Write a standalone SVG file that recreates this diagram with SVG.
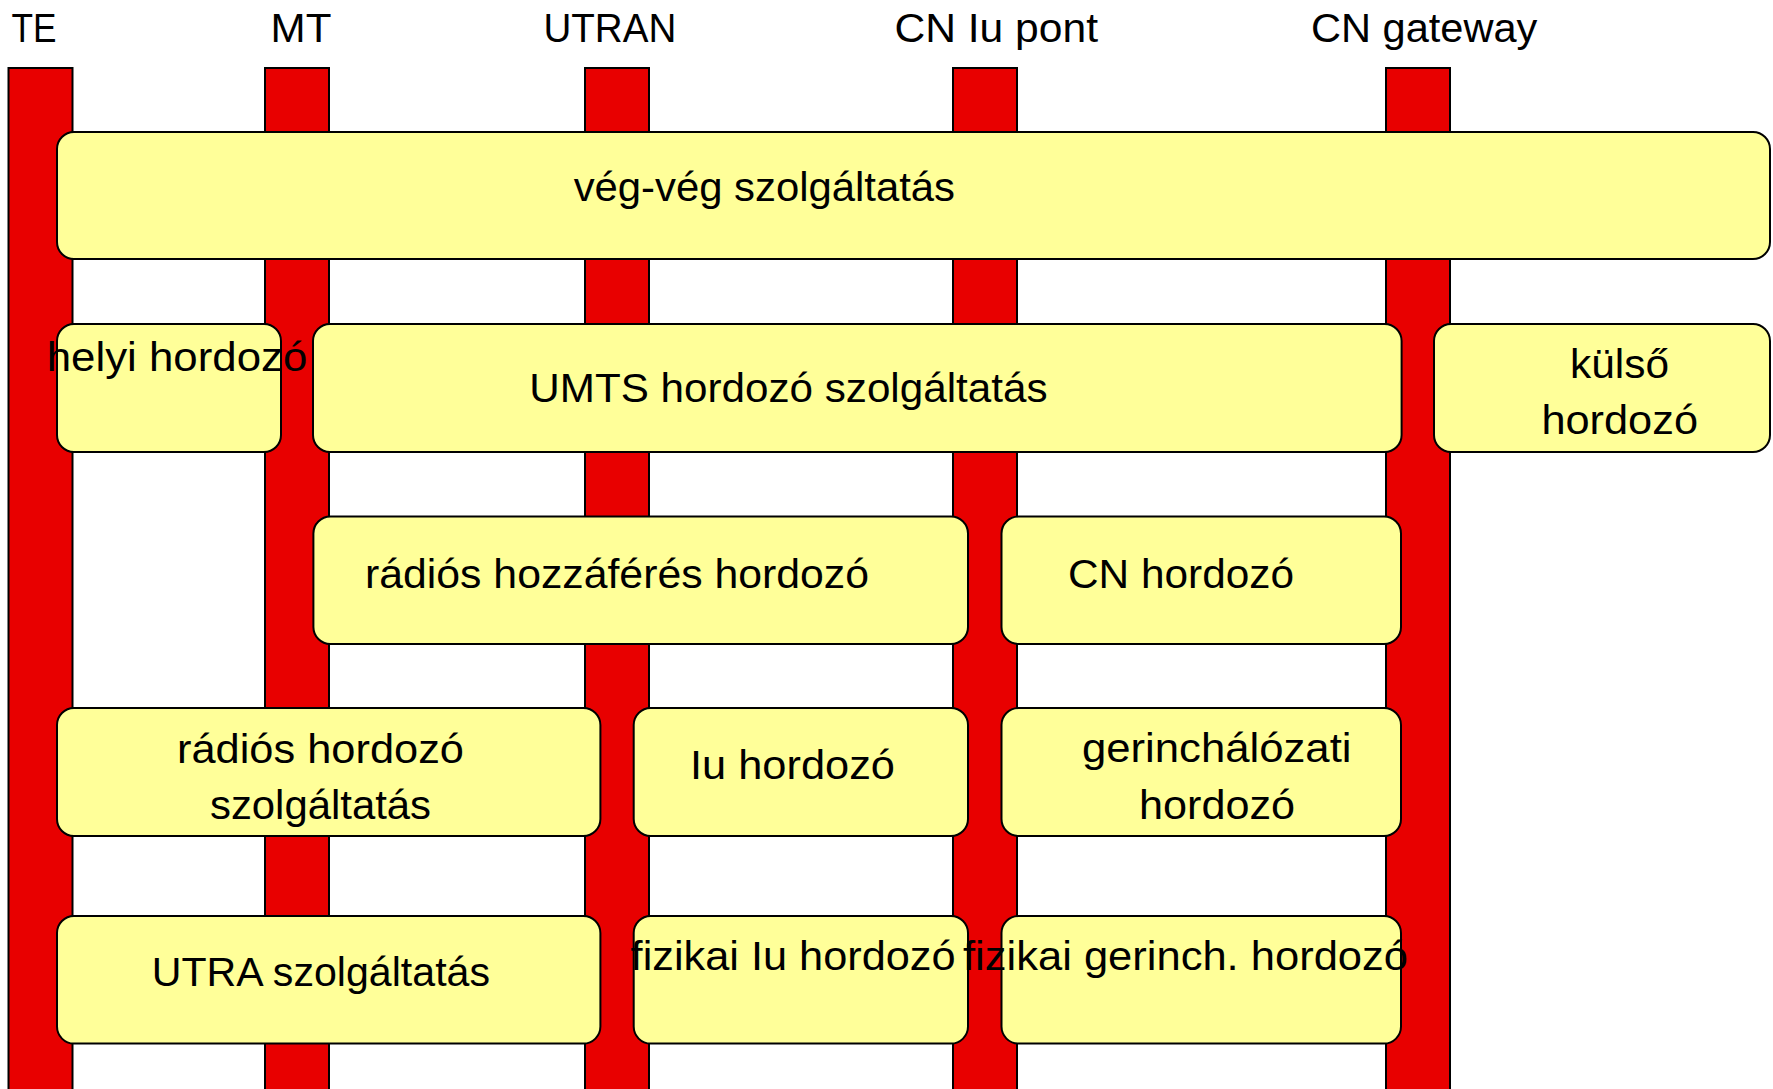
<svg xmlns="http://www.w3.org/2000/svg" width="1773" height="1089" viewBox="0 0 1773 1089">
  <style>
    .lane { fill: #E80000; stroke: #000; stroke-width: 2; }
    .box { fill: #FFFF99; stroke: #000; stroke-width: 2; }
    .t { font-family: "Liberation Sans", Arial, sans-serif; font-size: 41.5px; fill: #000; }
  </style>
  <rect width="1773" height="1089" fill="#fff"/>

  <!-- Lane headers -->
  <g id="headers">
    <text class="t" x="11.5" y="42.3" textLength="45" lengthAdjust="spacingAndGlyphs">TE</text>
    <text class="t" x="270.6" y="42.3" textLength="60.8" lengthAdjust="spacingAndGlyphs">MT</text>
    <text class="t" x="543.4" y="42.3" textLength="132.9" lengthAdjust="spacingAndGlyphs">UTRAN</text>
    <text class="t" x="894.4" y="42.3" textLength="203.6" lengthAdjust="spacingAndGlyphs">CN Iu pont</text>
    <text class="t" x="1311" y="42.3" textLength="226.4" lengthAdjust="spacingAndGlyphs">CN gateway</text>
  </g>

  <!-- Vertical lanes -->
  <g id="lanes">
    <rect id="lane-te" class="lane" x="8.5" y="68" width="64" height="1030"/>
    <rect id="lane-mt" class="lane" x="265" y="68" width="64" height="1030"/>
    <rect id="lane-utran" class="lane" x="585" y="68" width="64" height="1030"/>
    <rect id="lane-cniu" class="lane" x="953" y="68" width="64" height="1030"/>
    <rect id="lane-cngw" class="lane" x="1386" y="68" width="64" height="1030"/>
  </g>

  <!-- Row 1 -->
  <g id="veg-veg">
    <rect class="box" x="57" y="132" width="1713" height="127" rx="17"/>
    <text class="t" x="573.7" y="201" textLength="381.3" lengthAdjust="spacingAndGlyphs">vég-vég szolgáltatás</text>
  </g>

  <!-- Row 2 -->
  <g id="helyi-hordozo">
    <rect class="box" x="57" y="324" width="224" height="128" rx="17"/>
    <text class="t" x="46.7" y="370.7" textLength="260.6" lengthAdjust="spacingAndGlyphs">helyi hordozó</text>
  </g>
  <g id="umts-hordozo">
    <rect class="box" x="313" y="324" width="1088.6" height="128" rx="17"/>
    <text class="t" x="529.3" y="402.3" textLength="518.2" lengthAdjust="spacingAndGlyphs">UMTS hordozó szolgáltatás</text>
  </g>
  <g id="kulso-hordozo">
    <rect class="box" x="1434" y="324" width="336" height="128" rx="17"/>
    <text class="t" x="1570" y="377.7" textLength="99" lengthAdjust="spacingAndGlyphs">külső</text>
    <text class="t" x="1541.4" y="434.3" textLength="156.6" lengthAdjust="spacingAndGlyphs">hordozó</text>
  </g>

  <!-- Row 3 -->
  <g id="radios-hozzaferes">
    <rect class="box" x="313.4" y="516.5" width="654.6" height="127.5" rx="17"/>
    <text class="t" x="365" y="587.6" textLength="504" lengthAdjust="spacingAndGlyphs">rádiós hozzáférés hordozó</text>
  </g>
  <g id="cn-hordozo">
    <rect class="box" x="1001.5" y="516.5" width="399.5" height="127.5" rx="17"/>
    <text class="t" x="1068" y="587.6" textLength="226" lengthAdjust="spacingAndGlyphs">CN hordozó</text>
  </g>

  <!-- Row 4 -->
  <g id="radios-hordozo">
    <rect class="box" x="57" y="708" width="543.4" height="128" rx="17"/>
    <text class="t" x="177" y="762.8" textLength="287" lengthAdjust="spacingAndGlyphs">rádiós hordozó</text>
    <text class="t" x="210" y="819" textLength="221" lengthAdjust="spacingAndGlyphs">szolgáltatás</text>
  </g>
  <g id="iu-hordozo">
    <rect class="box" x="633.7" y="708" width="334.3" height="128" rx="17"/>
    <text class="t" x="690" y="779" textLength="205" lengthAdjust="spacingAndGlyphs">Iu hordozó</text>
  </g>
  <g id="gerinchalozati-hordozo">
    <rect class="box" x="1001.5" y="708" width="399.5" height="128" rx="17"/>
    <text class="t" x="1082" y="761.6" textLength="269.5" lengthAdjust="spacingAndGlyphs">gerinchálózati</text>
    <text class="t" x="1139" y="819" textLength="156" lengthAdjust="spacingAndGlyphs">hordozó</text>
  </g>

  <!-- Row 5 -->
  <g id="utra">
    <rect class="box" x="57" y="916" width="543.4" height="127.6" rx="17"/>
    <text class="t" x="151.8" y="986" textLength="338.2" lengthAdjust="spacingAndGlyphs">UTRA szolgáltatás</text>
  </g>
  <g id="fizikai-iu">
    <rect class="box" x="633.7" y="916" width="334.3" height="127.6" rx="17"/>
    <text class="t" x="630.6" y="970" textLength="325" lengthAdjust="spacingAndGlyphs">fizikai Iu hordozó</text>
  </g>
  <g id="fizikai-gerinch">
    <rect class="box" x="1001.5" y="916" width="399.5" height="127.6" rx="17"/>
    <text class="t" x="963" y="970" textLength="445" lengthAdjust="spacingAndGlyphs">fizikai gerinch. hordozó</text>
  </g>
</svg>
